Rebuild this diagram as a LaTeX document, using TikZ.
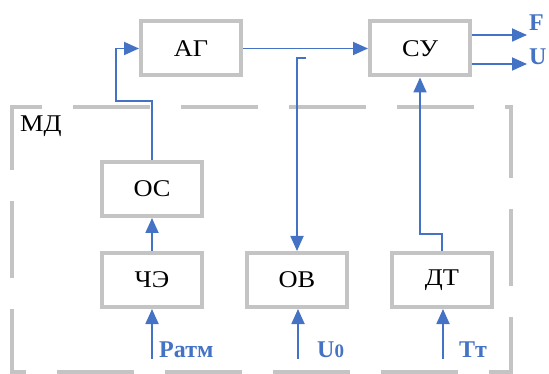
\documentclass[tikz,border=0pt]{standalone}
\usepackage{fontspec}
\setmainfont{Liberation Serif}
\newfontfamily\boxfont{Liberation Serif}[FakeStretch=1.1]
\usepackage{tikz}
\usetikzlibrary{arrows,arrows.meta,positioning}
\usepackage{xcolor}
\definecolor{mdblue}{RGB}{68,114,196}
\definecolor{mdgray}{RGB}{196,196,196}
\tikzstyle{arrow} = [line width=1.8pt,-{Triangle[length=15pt,width=13pt]},color=mdblue]
\tikzstyle{blockbox} = [rectangle, minimum width=100pt, minimum height=54pt, text centered, draw=mdgray, fill=white, line width=4pt, font=\boxfont\fontsize{24}{24}\selectfont]
\tikzstyle{siglabel} = [text=mdblue, inner sep=0pt, font=\bfseries\fontsize{24}{24}\selectfont]
\tikzstyle{mdframe} = [draw=mdgray, line width=3.5pt, dash pattern=on 77pt off 31pt, dash phase=14pt]

\begin{document}
\begin{tikzpicture}[x=1pt,y=-1pt]
\useasboundingbox (0,0) rectangle (549,374);
% module frame
\draw[mdframe] (12,140) -- (12,107) -- (511,107) -- (511,372) -- (12,372) -- cycle;
\node[anchor=base west, inner sep=0pt, font=\boxfont\fontsize{24}{24}\selectfont] (md) at (20,132) {МД};

% blocks
\node[blockbox] (ag) at (191,48.5) {АГ};
\node[blockbox, right=125pt of ag] (cu) {СУ};
\node[blockbox] (che) at (152,280) {ЧЭ};
\node[blockbox, right=41pt of che] (ov) {ОВ};
\node[blockbox, right=41pt of ov] (dt) {ДТ};
\node[blockbox, above=33pt of che] (os) {ОС};

% outputs
\coordinate (fout) at (527,35);
\coordinate (uout) at (527,64);
\draw[arrow] (cu.east |- fout) -- (fout);
\draw[arrow] (cu.east |- uout) -- (uout);
\node[siglabel, anchor=base west] (flbl) at (529,31) {F};
\node[siglabel, anchor=base west] (ulbl) at (529,65) {U};

% links
\draw[arrow] (ag) -- (cu);
\coordinate (tick) at (306,58);
\draw[arrow] (tick) -| (ov.north);
\coordinate (osbend) at (116,101);
\draw[arrow] (os.north) |- (osbend) |- (ag.west);
\draw[arrow] (che) -- (os);
\coordinate (dtbend) at (420,234);
\draw[arrow] (dt.north) |- (dtbend) -- (dtbend |- cu.south);

% inputs
\coordinate (patm) at (152,359);
\coordinate (uzero) at (298,359);
\coordinate (tt) at (443,359);
\draw[arrow] (patm) -- (che);
\draw[arrow] (uzero) -- (uzero |- ov.south);
\draw[arrow] (tt) -- (tt |- dt.south);
\node[siglabel, anchor=base west] (patmlbl) at (159,357) {Pатм};
\node[siglabel, anchor=base west] (uzerolbl) at (317,357) {U{\fontsize{19}{19}\selectfont 0}};
\node[siglabel, anchor=base west] (ttlbl) at (459,357) {Tт};
\end{tikzpicture}
\end{document}
